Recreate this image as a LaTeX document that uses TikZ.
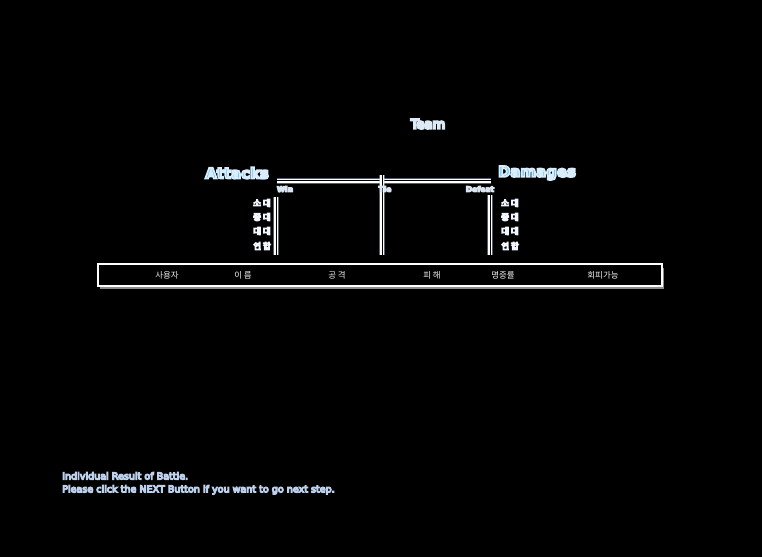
\documentclass[tikz,border=0pt]{standalone}
\usepackage{fontspec}
\setmainfont{DejaVu Sans}
\newfontfamily\kr{Noto Sans CJK KR}
% glow: text drawn in fill+stroke mode, stroke in a pale colour
\newcommand\glowtext[3]{\special{pdf:literal direct 2 Tr #2 w #1 RG}#3\special{pdf:literal direct 0 Tr 0.4 w}}
\definecolor{glowblue}{HTML}{BCD2EE}
\definecolor{skyblue}{HTML}{5AC4F6}
\definecolor{labgrey}{HTML}{86A4C4}
\definecolor{darktext}{HTML}{142038}
\definecolor{barshadow}{HTML}{8A8A8A}
\tikzset{
  teamlbl/.style={font=\fontsize{13}{15}\selectfont, text=darktext, inner sep=0pt},
  biglbl/.style={font=\fontsize{15}{18}\selectfont\bfseries, text=skyblue, inner sep=0pt},
  smalllbl/.style={font=\fontsize{7.5}{8}\selectfont\bfseries, text=labgrey, inner sep=0pt},
  krcell/.style={font=\kr\fontsize{8.5}{9}\selectfont, text=darktext, inner sep=0pt},
  krhead/.style={font=\kr\fontsize{8.5}{9}\selectfont, text=white!88!gray, inner sep=0pt},
  notelbl/.style={font=\fontsize{9.6}{13}\selectfont, text=white, inner sep=0pt, align=left, anchor=north west},
  glowline/.style={white, double=black, double distance=1bp, line width=1.5bp,
    preaction={draw=glowblue, opacity=0.45, line width=6bp}},
}
\begin{document}
\begin{tikzpicture}[x=1bp,y=-1bp]
\fill[black] (0,0) rectangle (762,557);
\useasboundingbox (0,0) rectangle (762,557);

% title
\node[teamlbl] (team) at (428,124) {\glowtext{0.87 0.92 0.97}{2.2}{Team}};
\node[biglbl] (att) at (237,173) {\glowtext{0.85 0.93 0.99}{1.8}{Attacks}};
\node[biglbl] (dam) at (537,173) {\glowtext{0.85 0.93 0.99}{1.8}{Damages}};

% bracket
\coordinate (hl) at (277,181);
\coordinate (hr) at (491,181);
\coordinate (hc) at (382,181);
\coordinate (tick) at (382,175);
\coordinate (lt) at (276,197);
\coordinate (lb) at (276,255);
\coordinate (mb) at (382,255);
\coordinate (rt) at (490,195);
\coordinate (rb) at (490,255);
\draw[glowline] (hl) -- (hr);
\draw[glowline] (hc) -- (tick);
\draw[glowline] (hc) -- (mb);
\draw[glowline] (lt) -- (lb);
\draw[glowline] (rt) -- (rb);

\node[smalllbl] (win) at (285,189) {\glowtext{0.86 0.9 0.95}{1.2}{Win}};
\node[smalllbl] (tie) at (385,189) {\glowtext{0.86 0.9 0.95}{1.2}{Tie}};
\node[smalllbl] (def) at (480,189) {\glowtext{0.86 0.9 0.95}{1.2}{Defeat}};

% left column
\node[krcell] (l1) at (262,203) {\glowtext{0.95 0.97 1}{1.2}{소 대}};
\node[krcell] (l2) at (262,217) {\glowtext{0.95 0.97 1}{1.2}{중 대}};
\node[krcell] (l3) at (262,231) {\glowtext{0.95 0.97 1}{1.2}{대 대}};
\node[krcell] (l4) at (262,246) {\glowtext{0.95 0.97 1}{1.2}{연 합}};
% right column
\node[krcell] (r1) at (510,203) {\glowtext{0.95 0.97 1}{1.2}{소 대}};
\node[krcell] (r2) at (510,217) {\glowtext{0.95 0.97 1}{1.2}{중 대}};
\node[krcell] (r3) at (510,231) {\glowtext{0.95 0.97 1}{1.2}{대 대}};
\node[krcell] (r4) at (510,246) {\glowtext{0.95 0.97 1}{1.2}{연 합}};

% header bar
\fill[barshadow] (100,268) rectangle (664,289);
\node[draw=white, line width=2bp, fill=black, minimum width=564bp, minimum height=22bp, inner sep=0pt] (bar) at (380,275) {};
\node[krhead] (h1) at (167,275) {사용자};
\node[krhead] (h2) at (243,275) {이 름};
\node[krhead] (h3) at (337,275) {공 격};
\node[krhead] (h4) at (432,275) {피 해};
\node[krhead] (h5) at (503,275) {명중률};
\node[krhead] (h6) at (603,275) {회피가능};

% note
\node[notelbl] (note) at (62,472) {\glowtext{0.74 0.82 0.93}{1.1}{Individual Result of Battle.}\\\glowtext{0.74 0.82 0.93}{1.1}{Please click the NEXT Button if you want to go next step.}};
\end{tikzpicture}
\end{document}
